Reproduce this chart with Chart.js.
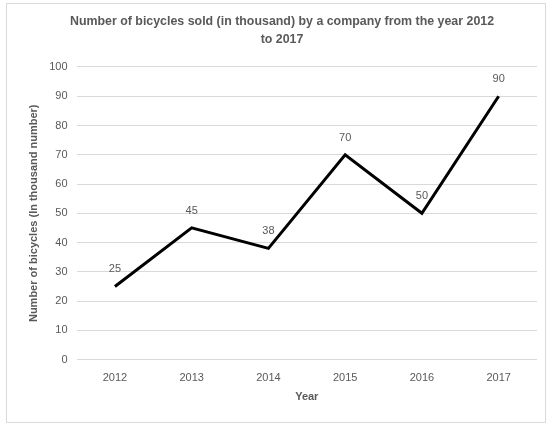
<!DOCTYPE html>
<html>
<head>
<meta charset="utf-8">
<script src="https://cdn.jsdelivr.net/npm/chart.js@4"></script>
<style>
  html, body { margin: 0; padding: 0; background: #fff; }
  #box {
    position: absolute; left: 6px; top: 3px;
    width: 538px; height: 418px;
    border: 1px solid #d9d9d9;
  }
</style>
</head>
<body>
<div id="box"><canvas id="chart"></canvas></div>
<script>
const years = ['2012', '2013', '2014', '2015', '2016', '2017'];
const bicyclesSold = [25, 45, 38, 70, 50, 90];

const grey = '#595959';
const fontName = '"Liberation Sans", Arial, sans-serif';

// draws the value above each point
const pointLabels = {
  id: 'pointLabels',
  afterDatasetsDraw(chart) {
    const ctx = chart.ctx;
    const meta = chart.getDatasetMeta(0);
    ctx.save();
    ctx.fillStyle = grey;
    ctx.font = '11px ' + fontName;
    ctx.textAlign = 'center';
    ctx.textBaseline = 'middle';
    meta.data.forEach((pt, i) => {
      ctx.fillText(bicyclesSold[i], pt.x, pt.y - 17);
    });
    ctx.restore();
  },
};

new Chart(document.getElementById('chart'), {
  type: 'line',
  data: {
    labels: years,
    datasets: [
      {
        data: bicyclesSold,
        borderColor: '#000',
        borderWidth: 3,
        pointRadius: 0,
        tension: 0,
      },
    ],
  },
  options: {
    responsive: true,
    maintainAspectRatio: false,
    animation: false,
    layout: { padding: { left: 20, right: 8, top: 5, bottom: 18 } },
    plugins: {
      legend: { display: false },
      tooltip: { enabled: false },
      title: {
        display: true,
        text: ['Number of bicycles sold (in thousand) by a company from the year 2012', 'to 2017'],
        color: grey,
        font: { family: fontName, size: 12.4, weight: 'bold', lineHeight: 1.45 },
        padding: { top: 4, bottom: 18 },
      },
    },
    scales: {
      x: {
        offset: true,
        grid: { display: false },
        border: { display: false },
        ticks: { color: grey, font: { family: fontName, size: 11 }, padding: 4 },
        title: {
          display: true,
          text: 'Year',
          color: grey,
          font: { family: fontName, size: 11, weight: 'bold' },
          padding: { top: 2, bottom: 0 },
        },
      },
      y: {
        min: 0,
        max: 100,
        ticks: { stepSize: 10, color: grey, font: { family: fontName, size: 11 }, padding: 9 },
        grid: { color: '#d9d9d9', drawTicks: false },
        border: { display: false },
        title: {
          display: true,
          text: 'Number of bicycles (In thousand number)',
          color: grey,
          font: { family: fontName, size: 11, weight: 'bold' },
          padding: { top: 0, bottom: 0 },
        },
      },
    },
  },
  plugins: [pointLabels],
});
</script>
</body>
</html>
